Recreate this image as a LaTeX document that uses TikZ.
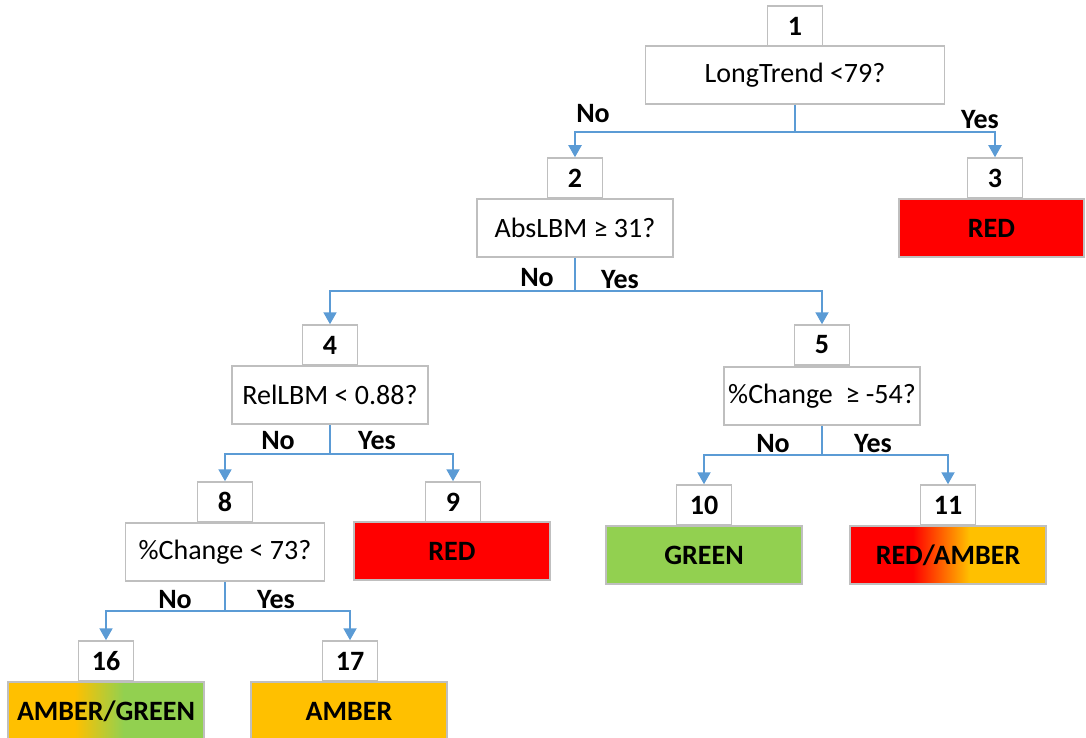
\documentclass[tikz,border=0pt]{standalone}
\usepackage{fontspec}
\setmainfont{Carlito}
\usetikzlibrary{arrows.meta}
\definecolor{link}{HTML}{5B9BD5}
\definecolor{frame}{HTML}{BFBFBF}
\definecolor{alarm}{HTML}{FF0000}
\definecolor{amber}{HTML}{FFC000}
\definecolor{calm}{HTML}{92D050}
\pgfdeclarehorizontalshading{redamber}{100bp}{color(0bp)=(alarm); color(41bp)=(alarm); color(55.5bp)=(amber); color(100bp)=(amber)}
\pgfdeclarehorizontalshading{ambergreen}{100bp}{color(0bp)=(amber); color(42bp)=(amber); color(54.5bp)=(calm); color(100bp)=(calm)}

\begin{document}
\begin{tikzpicture}[x=1pt, y=-1pt,
  num/.style={draw=frame, line width=1.5pt, fill=white, minimum width=55pt, minimum height=40pt, inner sep=0pt, font=\bfseries\fontsize{28}{34}\selectfont},
  ask/.style={draw=frame, line width=1.5pt, fill=white, minimum width=196pt, minimum height=58pt, inner sep=0pt, font=\fontsize{28}{34}\selectfont},
  leaf/.style={draw=frame, line width=1.5pt, minimum width=196pt, minimum height=58pt, inner sep=0pt, font=\bfseries\fontsize{28}{34}\selectfont},
  lbl/.style={font=\bfseries\fontsize{28}{34}\selectfont, inner sep=0pt},
  arr/.style={draw=link, line width=2pt, -{Triangle[width=13pt,length=12pt]}}
]
  \useasboundingbox (0,0) rectangle (1086,738);

  % Level 0
  \node[ask, minimum width=299pt] (q1) at (795,75) {LongTrend <79?};
  \node[num] (n1) at (795,26) {1};

  % Level 1
  \node[ask] (q2) at (575,228) {AbsLBM ≥ 31?};
  \node[num] (n2) at (575,178) {2};
  \node[leaf, fill=alarm, minimum width=185pt] (l3) at (991.5,228) {RED};
  \node[num] (n3) at (995,178) {3};

  % Level 2
  \node[ask] (q4) at (330,395) {RelLBM < 0.88?};
  \node[num] (n4) at (330,345) {4};
  \node[ask] (q5) at (822,396) {\%Change\ \ ≥ -54?};
  \node[num] (n5) at (822,345) {5};

  % Level 3
  \node[ask, minimum width=199pt] (q8) at (225,552) {\%Change < 73?};
  \node[num] (n8) at (225,502) {8};
  \node[leaf, fill=alarm] (l9) at (452,551) {RED};
  \node[num] (n9) at (453,502) {9};
  \node[leaf, fill=calm] (l10) at (704,555) {GREEN};
  \node[num] (n10) at (704,505) {10};
  \node[leaf, shade, shading=redamber] (l11) at (948,555) {RED/AMBER};
  \node[num] (n11) at (948,505) {11};

  % Level 4
  \node[leaf, shade, shading=ambergreen] (l16) at (106,711) {AMBER/GREEN};
  \node[num] (n16) at (106,661) {16};
  \node[leaf, fill=amber] (l17) at (349,711) {AMBER};
  \node[num] (n17) at (350,661) {17};

  % Connectors
  \coordinate (j1) at (795,132);
  \coordinate (j2) at (575,291);
  \coordinate (j4) at (330,454);
  \coordinate (j5) at (822,455);
  \coordinate (j8) at (225,611);
  \draw[arr] (q1.south) -- (j1) -| (n2.north);
  \draw[arr] (j1) -| (n3.north);
  \draw[arr] (q2.south) -- (j2) -| (n4.north);
  \draw[arr] (j2) -| (n5.north);
  \draw[arr] (q4.south) -- (j4) -| (n8.north);
  \draw[arr] (j4) -| (n9.north);
  \draw[arr] (q5.south) -- (j5) -| (n10.north);
  \draw[arr] (j5) -| (n11.north);
  \draw[arr] (q8.south) -- (j8) -| (n16.north);
  \draw[arr] (j8) -| (n17.north);

  % Branch labels
  \node[lbl] (no1) at (593,114) {No};
  \node[lbl] (yes1) at (980,120) {Yes};
  \node[lbl] (no2) at (537,278) {No};
  \node[lbl] (yes2) at (620,280) {Yes};
  \node[lbl] (no4) at (278,441) {No};
  \node[lbl] (yes4) at (377,441) {Yes};
  \node[lbl] (no5) at (773,444) {No};
  \node[lbl] (yes5) at (873,444) {Yes};
  \node[lbl] (no8) at (175,600) {No};
  \node[lbl] (yes8) at (276,600) {Yes};
\end{tikzpicture}
\end{document}
